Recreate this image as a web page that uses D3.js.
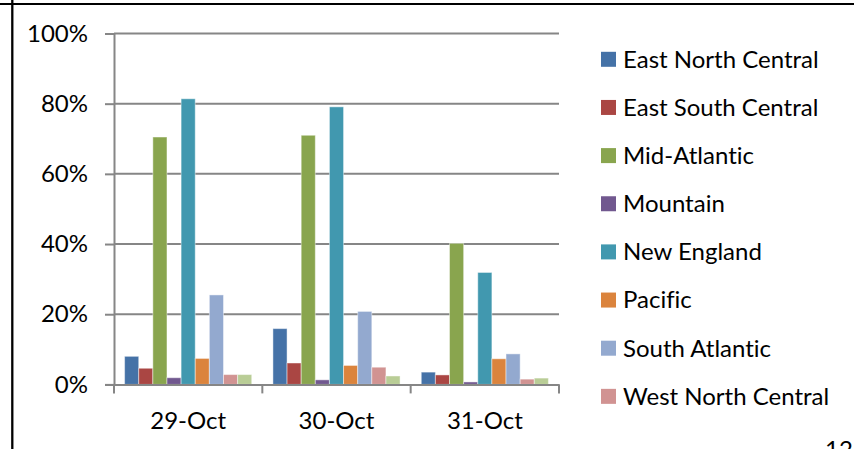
<!DOCTYPE html>
<html>
<head>
<meta charset="utf-8">
<script src="https://cdn.jsdelivr.net/npm/d3@7"></script>
<style>
  html, body { margin: 0; padding: 0; background: #fff; }
  svg { display: block; }
  text { font-family: Lato, "Open Sans", sans-serif; fill: #000; font-variant-ligatures: none; }
</style>
</head>
<body>
<div id="chart"></div>
<script>
// Share of outages by region, per day
const categories = ["29-Oct", "30-Oct", "31-Oct"];
const seriesNames = [
  "East North Central", "East South Central", "Mid-Atlantic", "Mountain",
  "New England", "Pacific", "South Atlantic", "West North Central", "West South Central"
];
const eastNorthCentral = [0.080, 0.159, 0.035];
const eastSouthCentral = [0.046, 0.061, 0.027];
const midAtlantic      = [0.705, 0.710, 0.402];
const mountain         = [0.019, 0.013, 0.007];
const newEngland       = [0.814, 0.791, 0.319];
const pacific          = [0.074, 0.054, 0.073];
const southAtlantic    = [0.255, 0.208, 0.087];
const westNorthCentral = [0.028, 0.049, 0.015];
const westSouthCentral = [0.028, 0.024, 0.018];
const yTicks = [0, 0.2, 0.4, 0.6, 0.8, 1.0];
// Only the first eight entries fit in the legend box
const legendShown = 8;

const seriesValues = [
  eastNorthCentral, eastSouthCentral, midAtlantic, mountain,
  newEngland, pacific, southAtlantic, westNorthCentral, westSouthCentral
];
const colors = ["#4572A7", "#AA4643", "#89A54E", "#71588F", "#4198AF",
                "#DB843D", "#93A9CF", "#D19392", "#B9CD96"];

const W = 854, H = 449;
const svg = d3.select("#chart").append("svg").attr("width", W).attr("height", H);

const plot = { left: 114, right: 559, top: 33.5, bottom: 384.4 };

const x0 = d3.scaleBand().domain(categories).range([plot.left, plot.right])
  .paddingInner(0).paddingOuter(0);
const x1 = d3.scaleBand().domain(seriesNames).range([0, x0.bandwidth()])
  .paddingInner(0).paddingOuter(0.75);
const y = d3.scaleLinear().domain([0, 1]).range([plot.bottom, plot.top]);
const color = d3.scaleOrdinal().domain(seriesNames).range(colors);

// Page frame lines
svg.append("line").attr("x1", 0).attr("x2", W).attr("y1", 4).attr("y2", 4)
  .attr("stroke", "#000").attr("stroke-width", 2);
svg.append("line").attr("x1", 12.3).attr("x2", 12.3).attr("y1", 0).attr("y2", H)
  .attr("stroke", "#000").attr("stroke-width", 2.3);

// Gridlines + y axis
const yAxis = d3.axisLeft(y).tickValues(yTicks).tickFormat(d3.format(".0%"))
  .tickSize(9).tickPadding(17);
const gy = svg.append("g").attr("transform", `translate(${plot.left},0)`).call(yAxis);
gy.select(".domain").attr("stroke", "#868686").attr("stroke-width", 2);
gy.selectAll(".tick line").attr("stroke", "#868686").attr("stroke-width", 2);
gy.selectAll(".tick text").style("font-size", "24px").attr("fill", "#000");

svg.append("g").selectAll("line").data(yTicks.filter(d => d > 0)).join("line")
  .attr("x1", plot.left).attr("x2", plot.right)
  .attr("y1", d => y(d)).attr("y2", d => y(d))
  .attr("stroke", "#868686").attr("stroke-width", 2);

// Bars
const rows = categories.map((c, i) => ({
  cat: c,
  vals: seriesNames.map((s, j) => ({ s, v: seriesValues[j][i] }))
}));
svg.append("g").selectAll("g").data(rows).join("g")
  .attr("transform", d => `translate(${x0(d.cat)},0)`)
  .selectAll("rect").data(d => d.vals).join("rect")
  .attr("x", d => x1(d.s))
  .attr("width", x1.bandwidth())
  .attr("y", d => y(d.v))
  .attr("height", d => y(0) - y(d.v))
  .attr("fill", d => color(d.s))
  .attr("stroke", "rgba(255,255,255,0.45)")
  .attr("stroke-width", 1);

// x axis
const xAxis = d3.axisBottom(x0).tickSize(0).tickPadding(28);
const gx = svg.append("g").attr("transform", `translate(0,${plot.bottom})`).call(xAxis);
gx.select(".domain").attr("stroke", "#868686").attr("stroke-width", 2);
gx.selectAll(".tick text").style("font-size", "24px").attr("fill", "#000");
const bounds = categories.map(c => x0(c)).concat([plot.right]);
svg.append("g").selectAll("line").data(bounds).join("line")
  .attr("x1", d => d).attr("x2", d => d)
  .attr("y1", plot.bottom).attr("y2", plot.bottom + 9)
  .attr("stroke", "#868686").attr("stroke-width", 2);

// Legend
const legend = svg.append("g").attr("transform", "translate(601,0)");
const items = legend.selectAll("g").data(seriesNames.slice(0, legendShown)).join("g")
  .attr("transform", (d, i) => `translate(0,${59.3 + i * 48.15})`);
items.append("rect").attr("x", 0).attr("y", -7.5).attr("width", 15).attr("height", 15)
  .attr("fill", d => color(d));
items.append("text").attr("x", 22).attr("y", 0).attr("dy", "0.35em")
  .style("font-size", "24px").text(d => d);

// Page number, running off the bottom edge of the page
svg.append("text").attr("x", 825).attr("y", 458).style("font-size", "24px").text("12");
</script>
</body>
</html>
